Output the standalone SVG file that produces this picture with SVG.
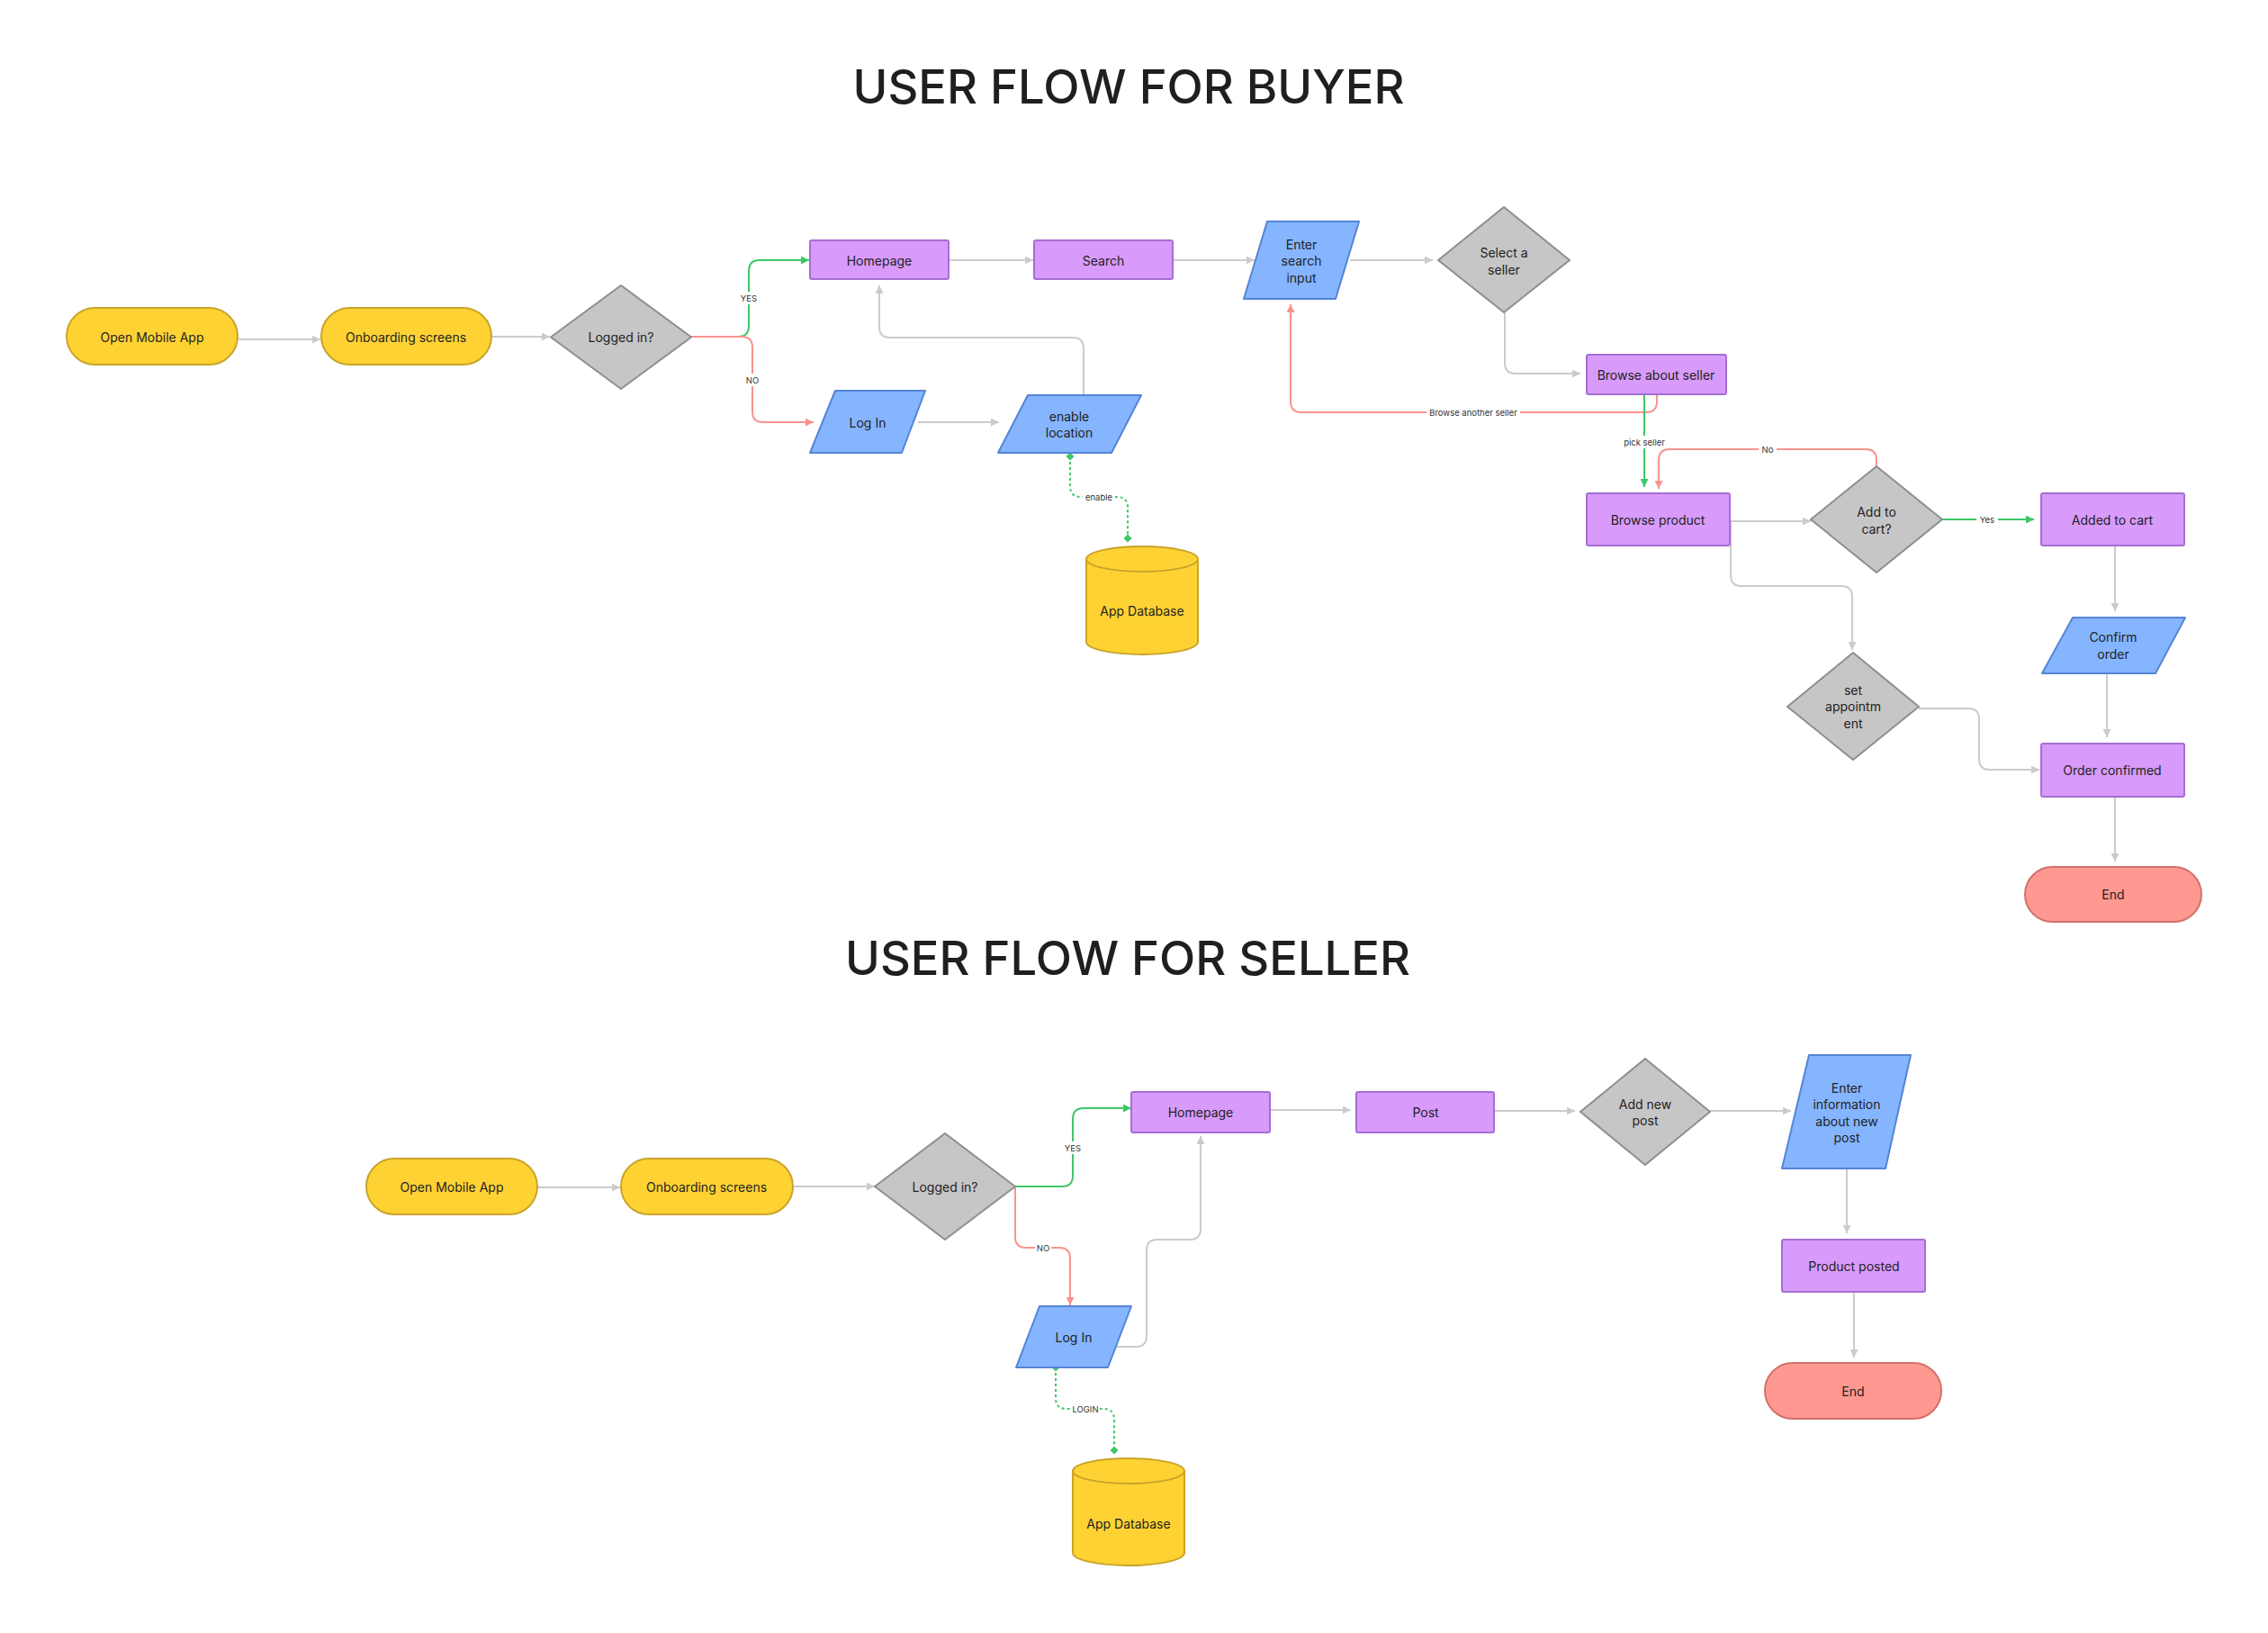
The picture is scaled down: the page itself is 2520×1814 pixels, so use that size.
<svg xmlns="http://www.w3.org/2000/svg" width="2520" height="1814" viewBox="0 0 2520 1814">
<defs>
<style>
.t{font-family:Inter,"Liberation Sans",sans-serif;font-size:14px;fill:#222;text-anchor:middle;dominant-baseline:central}
.title{font-family:Inter,"Liberation Sans",sans-serif;font-size:52.5px;font-weight:500;fill:#1f1f1f;text-anchor:middle}
.lbl{font-family:Inter,"Liberation Sans",sans-serif;font-size:9.5px;fill:#333;text-anchor:middle;dominant-baseline:central}
.yel{fill:#FFD233;stroke:#C9A42A;stroke-width:2}
.pur{fill:#D89BFB;stroke:#A46ED2;stroke-width:2}
.blu{fill:#85B5FF;stroke:#5584D6;stroke-width:2;stroke-linejoin:round}
.gry{fill:#C6C6C6;stroke:#8E8E8E;stroke-width:2;stroke-linejoin:round}
.red{fill:#FF9890;stroke:#D2716A;stroke-width:2}
.c{fill:none;stroke-width:2}
.cg{stroke:#CBCBCB}
.cgr{stroke:#3EC768}
.cr{stroke:#F8948C}
.dot{stroke-dasharray:3 3}
.lb{fill:#fff}
</style>
<marker id="ag" viewBox="0 0 10 10" refX="10" refY="5" markerWidth="9" markerHeight="9" markerUnits="userSpaceOnUse" orient="auto"><path d="M0,0 L10,5 L0,10 z" fill="#CBCBCB"/></marker>
<marker id="agr" viewBox="0 0 10 10" refX="10" refY="5" markerWidth="9" markerHeight="9" markerUnits="userSpaceOnUse" orient="auto"><path d="M0,0 L10,5 L0,10 z" fill="#3EC768"/></marker>
<marker id="ar" viewBox="0 0 10 10" refX="10" refY="5" markerWidth="9" markerHeight="9" markerUnits="userSpaceOnUse" orient="auto"><path d="M0,0 L10,5 L0,10 z" fill="#F8948C"/></marker>
<marker id="dg" viewBox="0 0 10 10" refX="5" refY="5" markerWidth="9" markerHeight="9" markerUnits="userSpaceOnUse" orient="auto"><path d="M5,0 L10,5 L5,10 L0,5 z" fill="#3EC768"/></marker>
</defs>
<rect width="2520" height="1814" fill="#fff"/>

<text class="title" x="1254" y="115">USER FLOW FOR BUYER</text>
<text class="title" x="1253" y="1083">USER FLOW FOR SELLER</text>

<g id="connectors">
<!-- buyer -->
<path class="c cg" d="M265,377 H356" marker-end="url(#ag)"/>
<path class="c cg" d="M547,374 H611" marker-end="url(#ag)"/>
<path class="c cgr" d="M768,374 H820 Q832,374 832,362 V301 Q832,289 844,289 H899" marker-end="url(#agr)"/>
<path class="c cr" d="M768,374 H824 Q836,374 836,386 V457 Q836,469 848,469 H904" marker-end="url(#ar)"/>
<path class="c cg" d="M1054,289 H1148" marker-end="url(#ag)"/>
<path class="c cg" d="M1303,289 H1394" marker-end="url(#ag)"/>
<path class="c cg" d="M1500,289 H1592" marker-end="url(#ag)"/>
<path class="c cg" d="M1672,347 V403 Q1672,415 1684,415 H1756" marker-end="url(#ag)"/>
<path class="c cr" d="M1841,439 V446 Q1841,458 1829,458 H1446 Q1434,458 1434,446 V338" marker-end="url(#ar)"/>
<path class="c cgr" d="M1827,439 V541" marker-end="url(#agr)"/>
<path class="c cr" d="M2085,518 V511 Q2085,499 2073,499 H1855 Q1843,499 1843,511 V543" marker-end="url(#ar)"/>
<path class="c cg" d="M1922,579 H2012" marker-end="url(#ag)"/>
<path class="c cgr" d="M2158,577 H2260" marker-end="url(#agr)"/>
<path class="c cg" d="M1923,579 V639 Q1923,651 1935,651 H2046 Q2058,651 2058,663 V722" marker-end="url(#ag)"/>
<path class="c cg" d="M2132,787 H2187 Q2199,787 2199,799 V843 Q2199,855 2211,855 H2266" marker-end="url(#ag)"/>
<path class="c cg" d="M2350,607 V679" marker-end="url(#ag)"/>
<path class="c cg" d="M2341,749 V819" marker-end="url(#ag)"/>
<path class="c cg" d="M2350,886 V957" marker-end="url(#ag)"/>
<path class="c cg" d="M1204,439 V387 Q1204,375 1192,375 H989 Q977,375 977,363 V317" marker-end="url(#ag)"/>
<path class="c cg" d="M1020,469 H1110" marker-end="url(#ag)"/>
<path class="c cgr dot" d="M1189,507 V540 Q1189,552 1201,552 H1241 Q1253,552 1253,564 V598" marker-start="url(#dg)" marker-end="url(#dg)"/>
<!-- seller -->
<path class="c cg" d="M597,1319 H689" marker-end="url(#ag)"/>
<path class="c cg" d="M881,1318 H972" marker-end="url(#ag)"/>
<path class="c cgr" d="M1128,1318 H1180 Q1192,1318 1192,1306 V1243 Q1192,1231 1204,1231 H1257" marker-end="url(#agr)"/>
<path class="c cr" d="M1128,1318 V1374 Q1128,1386 1140,1386 H1177 Q1189,1386 1189,1398 V1450" marker-end="url(#ar)"/>
<path class="c cg" d="M1239,1496 H1262 Q1274,1496 1274,1484 V1389 Q1274,1377 1286,1377 H1322 Q1334,1377 1334,1365 V1262" marker-end="url(#ag)"/>
<path class="c cg" d="M1411,1233 H1501" marker-end="url(#ag)"/>
<path class="c cg" d="M1660,1234 H1750" marker-end="url(#ag)"/>
<path class="c cg" d="M1900,1234 H1990" marker-end="url(#ag)"/>
<path class="c cg" d="M2052,1298 V1370" marker-end="url(#ag)"/>
<path class="c cg" d="M2060,1436 V1508" marker-end="url(#ag)"/>
<path class="c cgr dot" d="M1173,1519 V1553 Q1173,1565 1185,1565 H1226 Q1238,1565 1238,1577 V1611" marker-start="url(#dg)" marker-end="url(#dg)"/>
<!-- labels -->
<rect class="lb" x="822" y="324" width="20" height="14"/><text class="lbl" x="832" y="331">YES</text>
<rect class="lb" x="827" y="415" width="18" height="14"/><text class="lbl" x="836" y="422">NO</text>
<rect class="lb" x="1585" y="451" width="104" height="14"/><text class="lbl" x="1637" y="458">Browse another seller</text>
<rect class="lb" x="1800" y="484" width="54" height="14"/><text class="lbl" x="1827" y="491">pick seller</text>
<rect class="lb" x="1954" y="492" width="20" height="14"/><text class="lbl" x="1964" y="499">No</text>
<rect class="lb" x="2196" y="570" width="24" height="14"/><text class="lbl" x="2208" y="577">Yes</text>
<rect class="lb" x="1203" y="545" width="36" height="14"/><text class="lbl" x="1221" y="552">enable</text>
<rect class="lb" x="1182" y="1268" width="20" height="14"/><text class="lbl" x="1192" y="1275">YES</text>
<rect class="lb" x="1150" y="1379" width="18" height="14"/><text class="lbl" x="1159" y="1386">NO</text>
<rect class="lb" x="1190" y="1558" width="32" height="14"/><text class="lbl" x="1206" y="1565">LOGIN</text>
</g>

<!-- Buyer nodes -->
<g id="b-open"><rect class="yel" x="74" y="342" width="190" height="63" rx="31.5"/><text class="t" x="169" y="374">Open Mobile App</text></g>
<g id="b-onboard"><rect class="yel" x="357" y="342" width="189" height="63" rx="31.5"/><text class="t" x="451" y="374">Onboarding screens</text></g>
<g id="b-logged"><polygon class="gry" points="690,317 768,374.5 690,432 612,374.5" fill="#CBCACB"/><text class="t" x="690" y="374.5">Logged in?</text></g>
<g id="b-home"><rect class="pur" x="900" y="267" width="154" height="43" rx="2"/><text class="t" x="977" y="289">Homepage</text></g>
<g id="b-search"><rect class="pur" x="1149" y="267" width="154" height="43" rx="2"/><text class="t" x="1226" y="289">Search</text></g>
<g id="b-enter"><polygon class="blu" points="1408,246 1510,246 1484,332 1382,332"/><text class="t" x="1446" y="271">Enter</text><text class="t" x="1446" y="289.5">search</text><text class="t" x="1446" y="308">input</text></g>
<g id="b-select"><polygon class="gry" points="1671,230 1744,289 1671,347 1598,289"/><text class="t" x="1671" y="280">Select a</text><text class="t" x="1671" y="299">seller</text></g>
<g id="b-about"><rect class="pur" x="1763" y="394" width="155" height="44" rx="2"/><text class="t" x="1840" y="416">Browse about seller</text></g>
<g id="b-product"><rect class="pur" x="1763" y="548" width="159" height="58" rx="2"/><text class="t" x="1842" y="577">Browse product</text></g>
<g id="b-addcart"><polygon class="gry" points="2085,518 2158,577 2085,636 2012,577"/><text class="t" x="2085" y="568">Add to</text><text class="t" x="2085" y="587">cart?</text></g>
<g id="b-added"><rect class="pur" x="2268" y="548" width="159" height="58" rx="2"/><text class="t" x="2347" y="577">Added to cart</text></g>
<g id="b-confirm"><polygon class="blu" points="2303,686 2428,686 2395,748 2269,748"/><text class="t" x="2348" y="707">Confirm</text><text class="t" x="2348" y="726">order</text></g>
<g id="b-appt"><polygon class="gry" points="2059,725 2132,785 2059,844 1986,785"/><text class="t" x="2059" y="766">set</text><text class="t" x="2059" y="784.5">appointm</text><text class="t" x="2059" y="803">ent</text></g>
<g id="b-orderconf"><rect class="pur" x="2268" y="826" width="159" height="59" rx="2"/><text class="t" x="2347" y="855.5">Order confirmed</text></g>
<g id="b-end"><rect class="red" x="2250" y="963" width="196" height="61" rx="30.5"/><text class="t" x="2348" y="993.5">End</text></g>
<g id="b-login"><polygon class="blu" points="928,434 1028,434 1002,503 900,503"/><text class="t" x="964" y="469">Log In</text></g>
<g id="b-location"><polygon class="blu" points="1142,439 1268,439 1235,503 1109,503"/><text class="t" x="1188" y="462">enable</text><text class="t" x="1188" y="480.5">location</text></g>
<g id="b-db"><path class="yel" d="M1207,621 A62,14 0 0 1 1331,621 V713 A62,14 0 0 1 1207,713 Z"/><path class="yel" d="M1207,621 A62,14 0 0 0 1331,621" fill="none"/><text class="t" x="1269" y="678">App Database</text></g>

<!-- Seller nodes -->
<g id="s-open"><rect class="yel" x="407" y="1287" width="190" height="62" rx="31"/><text class="t" x="502" y="1318">Open Mobile App</text></g>
<g id="s-onboard"><rect class="yel" x="690" y="1287" width="191" height="62" rx="31"/><text class="t" x="785" y="1318">Onboarding screens</text></g>
<g id="s-logged"><polygon class="gry" points="1050,1259 1128,1318 1050,1377 972,1318" fill="#CBCACB"/><text class="t" x="1050" y="1318">Logged in?</text></g>
<g id="s-home"><rect class="pur" x="1257" y="1213" width="154" height="45" rx="2"/><text class="t" x="1334" y="1235.5">Homepage</text></g>
<g id="s-post"><rect class="pur" x="1507" y="1213" width="153" height="45" rx="2"/><text class="t" x="1584" y="1235.5">Post</text></g>
<g id="s-addnew"><polygon class="gry" points="1828,1176 1900,1235 1828,1294 1756,1235"/><text class="t" x="1828" y="1226">Add new</text><text class="t" x="1828" y="1244.5">post</text></g>
<g id="s-enterinfo"><polygon class="blu" points="2010,1172 2123,1172 2095,1298 1980,1298"/><text class="t" x="2052" y="1208">Enter</text><text class="t" x="2052" y="1226.5">information</text><text class="t" x="2052" y="1245">about new</text><text class="t" x="2052" y="1263.5">post</text></g>
<g id="s-posted"><rect class="pur" x="1980" y="1377" width="159" height="58" rx="2"/><text class="t" x="2060" y="1406">Product posted</text></g>
<g id="s-end"><rect class="red" x="1961" y="1514" width="196" height="62" rx="31"/><text class="t" x="2059" y="1545">End</text></g>
<g id="s-login"><polygon class="blu" points="1155,1451 1257,1451 1231,1519 1129,1519"/><text class="t" x="1193" y="1485.5">Log In</text></g>
<g id="s-db"><path class="yel" d="M1192,1634 A62,14 0 0 1 1316,1634 V1725 A62,14 0 0 1 1192,1725 Z"/><path class="yel" d="M1192,1634 A62,14 0 0 0 1316,1634" fill="none"/><text class="t" x="1254" y="1692">App Database</text></g>
</svg>
